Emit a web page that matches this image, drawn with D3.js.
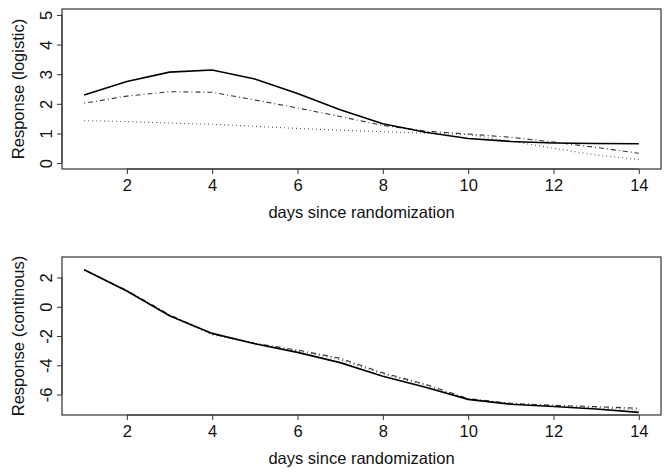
<!DOCTYPE html>
<html>
<head>
<meta charset="utf-8">
<script src="https://cdn.jsdelivr.net/npm/d3@7"></script>
<style>
  body { margin: 0; background: #fff; }
  text { font-family: "Liberation Sans", Arial, sans-serif; fill: #111; }
</style>
</head>
<body>
<svg id="chart" width="670" height="476"></svg>
<script>
// days on study
var days = [1, 2, 3, 4, 5, 6, 7, 8, 9, 10, 11, 12, 13, 14];

// top panel, logistic response
var logisticSolid   = [2.30, 2.75, 3.07, 3.14, 2.84, 2.35, 1.80, 1.33, 1.04, 0.83, 0.73, 0.68, 0.66, 0.65];
var logisticDotDash = [2.02, 2.26, 2.41, 2.39, 2.13, 1.86, 1.57, 1.27, 1.08, 0.98, 0.87, 0.71, 0.53, 0.33];
var logisticDotted  = [1.43, 1.40, 1.35, 1.31, 1.24, 1.17, 1.11, 1.06, 1.01, 0.96, 0.74, 0.50, 0.27, 0.12];

// bottom panel, continuous response
var contSolid   = [2.53, 1.08, -0.62, -1.82, -2.53, -3.12, -3.82, -4.75, -5.50, -6.33, -6.66, -6.82, -6.99, -7.22];
var contDotDash = [2.53, 1.12, -0.55, -1.86, -2.50, -2.96, -3.52, -4.52, -5.30, -6.28, -6.60, -6.74, -6.83, -6.94];
var contDotted  = [2.53, 1.05, -0.60, -1.92, -2.52, -3.02, -3.62, -4.58, -5.38, -6.35, -6.64, -6.78, -6.90, -7.05];

var xTicks = [2, 4, 6, 8, 10, 12, 14];
var yTicksTop = [0, 1, 2, 3, 4, 5];
var yTicksBottom = [-6, -4, -2, 0, 2];

var svg = d3.select('#chart');

// R style: pad the data range by 4% on each side
function padded(lo, hi) {
    var d = (hi - lo) * 0.04;
    return [lo - d, hi + d];
}

// plain hyphen minus, like the original
function plain(d) { return String(d); }

var x = d3.scaleLinear().domain(padded(1, 14)).range([62, 661]);

function drawPanel(top, bottom, yDomain, yTicks, yLabel, series) {
    var y = d3.scaleLinear().domain(padded(yDomain[0], yDomain[1])).range([bottom, top]);
    var g = svg.append('g');

    var line = d3.line()
        .x(function(d, i) { return x(days[i]); })
        .y(function(d) { return y(d); });

    series.forEach(function(s) {
        g.append('path')
            .datum(s.values)
            .attr('d', line)
            .attr('fill', 'none')
            .attr('stroke', s.color)
            .attr('stroke-width', s.width)
            .attr('stroke-dasharray', s.dash);
    });

    // box
    g.append('rect')
        .attr('x', x.range()[0])
        .attr('y', top)
        .attr('width', x.range()[1] - x.range()[0])
        .attr('height', bottom - top)
        .attr('fill', 'none')
        .attr('stroke', '#333')
        .attr('stroke-width', 1.2);

    // x axis
    var xAxis = d3.axisBottom(x).tickValues(xTicks).tickFormat(plain).tickSize(5).tickSizeOuter(0);
    var gx = g.append('g').attr('transform', 'translate(0,' + bottom + ')').call(xAxis);
    gx.select('.domain').attr('d', 'M' + x(xTicks[0]) + ',0H' + x(xTicks[xTicks.length - 1]))
        .attr('stroke', '#333');
    gx.selectAll('.tick line').attr('stroke', '#333');
    gx.selectAll('.tick text')
        .attr('font-size', 16.5)
        .attr('font-family', '"Liberation Sans", Arial, sans-serif')
        .attr('fill', '#111')
        .attr('dy', null)
        .attr('y', 22);

    // y axis, labels turned like R's default
    var yAxis = d3.axisLeft(y).tickValues(yTicks).tickFormat(plain).tickSize(5).tickSizeOuter(0);
    var gy = g.append('g').attr('transform', 'translate(' + x.range()[0] + ',0)').call(yAxis);
    gy.select('.domain').attr('d', 'M0,' + y(yTicks[0]) + 'V' + y(yTicks[yTicks.length - 1]))
        .attr('stroke', '#333');
    gy.selectAll('.tick line').attr('stroke', '#333');
    gy.selectAll('.tick text')
        .attr('font-size', 16.5)
        .attr('font-family', '"Liberation Sans", Arial, sans-serif')
        .attr('fill', '#111')
        .attr('x', null).attr('dy', null)
        .attr('text-anchor', 'middle')
        .attr('transform', 'translate(-9.6,0) rotate(-90)');

    g.append('text')
        .attr('x', (x.range()[0] + x.range()[1]) / 2)
        .attr('y', bottom + 49)
        .attr('text-anchor', 'middle')
        .attr('font-size', 16.5)
        .text('days since randomization');

    g.append('text')
        .attr('transform', 'translate(24,' + (top + bottom) / 2 + ') rotate(-90)')
        .attr('text-anchor', 'middle')
        .attr('font-size', 16.5)
        .text(yLabel);
}

drawPanel(9, 169, [0, 5], yTicksTop, 'Response (logistic)', [
    { values: logisticDotted,  color: '#555', width: 1.1, dash: '1,3' },
    { values: logisticDotDash, color: '#333', width: 1.1, dash: '1,3,5,3' },
    { values: logisticSolid,   color: '#000', width: 1.6, dash: null }
]);

drawPanel(257, 415, [-7, 3], yTicksBottom, 'Response (continous)', [
    { values: contDotted,  color: '#555', width: 1.1, dash: '1,3' },
    { values: contDotDash, color: '#333', width: 1.1, dash: '1,3,5,3' },
    { values: contSolid,   color: '#000', width: 1.6, dash: null }
]);
</script>
</body>
</html>
